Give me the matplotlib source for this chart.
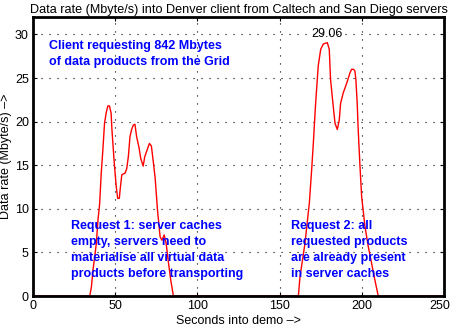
import matplotlib
matplotlib.use("Agg")
import matplotlib.pyplot as plt
from matplotlib.transforms import ScaledTranslation

# data rate (seconds, Mbyte/s)
t = [0, 34.5, 35.5, 36.5, 37.5, 38.5, 39.5, 40.5, 41.5, 42.5, 43.5, 44.5, 45.5, 46.5,
     47.5, 48, 49.4, 50.6, 51.5, 52.5, 53, 54, 55, 56, 57, 58, 59, 60, 61, 62, 63,
     64.5, 65.5, 67, 68, 69.5, 70.8, 72, 73.3, 74.3, 75.7, 77.3, 78.4, 79.8, 81, 82.4,
     83.8, 85.4,
     161.4, 162.4, 165.4, 168.1, 169.5, 170.5, 171.9, 173.5, 175, 176.6, 178, 179,
     180.2, 181, 182.6, 183.7, 185.1, 186.3, 187.1, 188.7, 190.8, 192.8, 193.8, 195,
     195.8, 196.4, 197.2, 197.8, 198.8, 199.9, 201.9, 203.9, 205.9, 208, 210, 250]
rate = [0, 0, 1.0, 3.0, 4.5, 6.0, 8.7, 10.5, 14.1, 16.8, 19.8, 21.0, 21.8, 21.8,
        21.0, 19.1, 15.3, 12.6, 11.2, 11.2, 12.2, 13.9, 14.0, 14.1, 14.6, 16.0, 18.3,
        19.1, 19.6, 19.7, 18.3, 17.0, 15.8, 14.9, 16.0, 16.8, 17.5, 17.2, 15.2, 13.5,
        9.9, 6.8, 6.4, 7.0, 6.0, 3.8, 1.8, 0,
        0, 2.2, 6.0, 10.7, 14.5, 17.5, 22.1, 26.4, 28.3, 28.9, 29.0, 29.06,
        28.3, 24.8, 21.8, 19.8, 19.1, 20.2, 22.1, 23.3, 24.4, 25.6, 26.0, 26.0,
        25.8, 24.8, 22.1, 19.1, 15.2, 11.4, 8.0, 5.7, 3.8, 1.8, 0, 0]

peak_label = "29.06"
x_ticks = [0, 50, 100, 150, 200, 250]
y_ticks = [0, 5, 10, 15, 20, 25, 30]

note_client = ["Client requesting 842 Mbytes", "of data products from the Grid"]
note_req1 = ["Request 1: server caches", "empty, servers need to",
             "materialise all virtual data", "products before transporting"]
note_req2 = ["Request 2: all", "requested products", "are already present",
             "in server caches"]

plt.rcParams['font.family'] = ['Liberation Sans', 'DejaVu Sans']

fig = plt.figure(figsize=(4.51, 3.27), dpi=100)
ax = fig.add_axes([0.0732, 0.0948, 0.9113, 0.8532])
ax.plot(t, rate, color='red', linewidth=1.0)

ax.set_xlim(0, 250)
ax.set_ylim(0, 32)
ax.set_xticks(x_ticks)
ax.set_yticks(y_ticks)
ax.grid(True, color='black', linestyle=(0, (1, 6.2)), linewidth=0.8)
ax.tick_params(direction='in', top=True, right=True, labelsize=9, length=3, pad=3)
for s in ax.spines.values():
    s.set_linewidth(2)

# last x label sits a little left of its tick, like in the original
last = ax.get_xticklabels()[-1]
last.set_transform(last.get_transform() + ScaledTranslation(-0.04, 0, fig.dpi_scale_trans))

ax.set_title("Data rate (Mbyte/s) into Denver client from Caltech and San Diego servers",
             fontsize=9.1, pad=3)
ax.set_xlabel("Seconds into demo \u2013>", fontsize=9, labelpad=2)
ax.set_ylabel("Data rate (Mbyte/s) \u2013>", fontsize=9, labelpad=2)

ax.text(178.6, 30.1, peak_label, fontsize=9, ha='center', va='center')

# annotation lines, one per baseline (16 px apart)
step = 1.84
blue = dict(color='blue', fontsize=9, fontweight='bold', va='baseline')
for i, line in enumerate(note_client):
    ax.text(9.5, 28.36 - i * step, line, **blue)
for i, line in enumerate(note_req1):
    ax.text(23.3, 7.67 - i * step, line, **blue)
for i, line in enumerate(note_req2):
    ax.text(157.0, 7.74 - i * step, line, **blue)

fig.savefig("out.png", dpi=100)
